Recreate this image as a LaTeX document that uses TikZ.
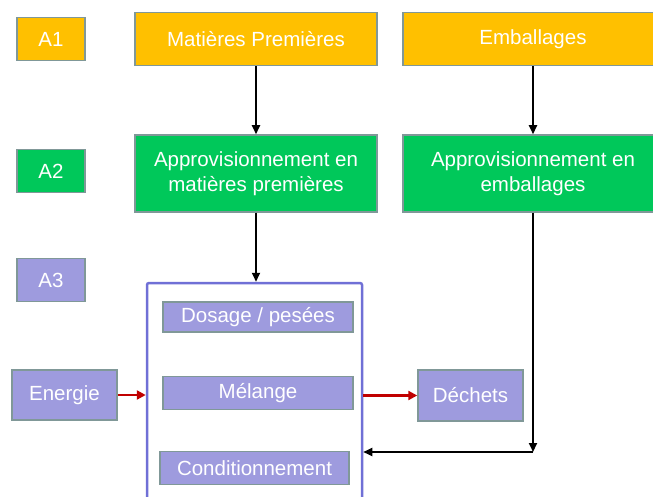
\documentclass[tikz,border=0pt]{standalone}
\usepackage{fontspec}
\setmainfont{Liberation Sans}
\usetikzlibrary{arrows.meta}
\definecolor{orangeA}{RGB}{255,192,0}
\definecolor{vertA}{RGB}{0,200,90}
\definecolor{violetA}{RGB}{158,155,222}
\definecolor{bordA}{RGB}{128,152,152}
\definecolor{cadreA}{RGB}{112,112,214}
\definecolor{rougeA}{RGB}{192,0,0}
\begin{document}
\begin{tikzpicture}[x=1pt,y=-1pt,
        every node/.style={text=white,font=\fontsize{20.5}{25}\selectfont,align=center,inner sep=0pt},
        boite/.style={draw=bordA,line width=1.5pt,minimum width=#1},
        niveau/.style={boite=68pt,minimum height=43pt},
        orange/.style={fill=orangeA,minimum height=53pt},
        vert/.style={fill=vertA,minimum height=77pt},
        violet/.style={fill=violetA},
        fleche/.style={line width=2pt,-{Triangle[width=8pt,length=9pt]}},
        flux/.style={line width=2.6pt,draw=rougeA,-{Triangle[width=9pt,length=9pt]}}
    ]
    \useasboundingbox (0,0) rectangle (653,497);
    \clip (0,0) rectangle (653,497);
    % niveaux
    \node[niveau,orange,minimum height=43pt] (A1) at (51,39) {A1};
    \node[niveau,vert,minimum height=43pt] (A2) at (51,171) {A2};
    \node[niveau,violet] (A3) at (51,280) {A3};
    % entrees
    \node[boite=242pt,orange] (matieres) at (256,39) {Matières Premières};
    \node[boite=260pt,orange] (emb) at (533,39) {Emballages};
    \node[boite=242pt,vert] (appMat) at (256,173.5) {Approvisionnement en\\matières premières};
    \node[boite=260pt,vert] (appEmb) at (533,173.5) {Approvisionnement en\\emballages};
    % fabrication
    \node[draw=cadreA,line width=2.5pt,rounded corners=2pt,minimum width=215pt,minimum height=227pt] (bloc) at (254.5,396.5) {};
    \node[boite=190pt,violet,minimum height=30pt] (dosage) at (258,317) {Dosage / pesées};
    \node[boite=190pt,violet,minimum height=33pt] (melange) at (258,393) {Mélange};
    \node[boite=189pt,violet,minimum height=33pt] (cond) at (254.5,468) {Conditionnement};
    \node[boite=105pt,violet,minimum height=50pt] (energie) at (64.5,395) {Energie};
    \node[boite=105pt,violet,minimum height=51pt] (dechets) at (470.5,395.5) {Déchets};
    \coordinate (coin) at (appEmb.south |- 0,452);
    % connecteurs
    \draw[fleche] (matieres) -- (appMat);
    \draw[fleche] (emb) -- (appEmb);
    \draw[fleche] (appMat.south) -- (appMat.south |- bloc.north);
    \draw[fleche] (appEmb.south) -- (coin);
    \draw[fleche] (coin) -- (coin -| bloc.east);
    \draw[flux] (energie.east) -- (energie.east -| bloc.west);
    \draw[flux] (bloc.east |- dechets.west) -- (dechets.west);
\end{tikzpicture}
\end{document}
